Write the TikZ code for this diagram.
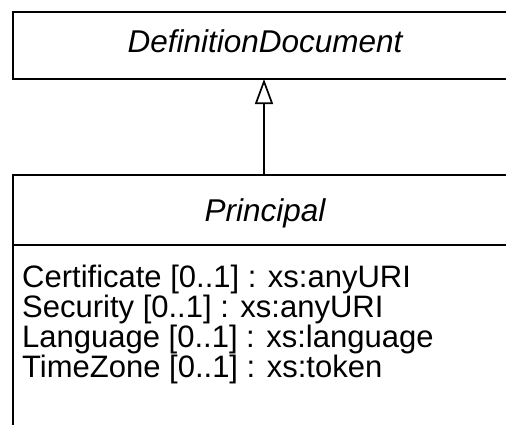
\documentclass[tikz,border=0pt]{standalone}
\usepackage{fontspec}
\setmainfont{Liberation Sans}
\usetikzlibrary{arrows.meta}
\newcommand{\attrfont}{\fontsize{31pt}{36pt}\selectfont\upshape}
\newcommand{\titlefont}{\fontsize{31.5pt}{36pt}\selectfont\itshape}
\begin{document}
\begin{tikzpicture}[x=1pt,y=-1pt,
  umlbox/.style={draw=black, line width=1.7pt, fill=white, inner sep=0pt, anchor=north west},
  titletext/.style={font=\titlefont, inner sep=0pt, anchor=base},
  attrtext/.style={font=\attrfont, inner sep=0pt, anchor=base west},
  generalization/.style={line width=1.7pt, -{Triangle[open, width=18pt, length=25pt, line width=1.7pt]}}
]
  \useasboundingbox (0,0) rectangle (506,424);
  \clip (0,0) rectangle (506,424);

  % superclass box
  \node[umlbox, minimum width=560pt, minimum height=67pt] (def) at (12,11) {};
  \node[titletext] (deftitle) at (265,52) {DefinitionDocument};

  % subclass box with its attribute compartment
  \node[umlbox, minimum width=560pt, minimum height=300pt] (prin) at (12,174) {};
  \coordinate (sepL) at (12,245);
  \coordinate (sepR) at (572,245);
  \draw[line width=1.7pt] (sepL) -- (sepR);
  \node[titletext] (printitle) at (265,221) {Principal};
  \node[attrtext] (attr1) at (22,287) {Certificate [0..1] : xs:anyURI};
  \node[attrtext] (attr2) at (22,317.3) {Security [0..1] : xs:anyURI};
  \node[attrtext] (attr3) at (22,347.6) {Language [0..1] : xs:language};
  \node[attrtext] (attr4) at (22,377.9) {TimeZone [0..1] : xs:token};

  % inheritance arrow
  \coordinate (tip) at (264,79);
  \coordinate (foot) at (264,174);
  \draw[generalization] (foot) -- (tip);
\end{tikzpicture}
\end{document}
